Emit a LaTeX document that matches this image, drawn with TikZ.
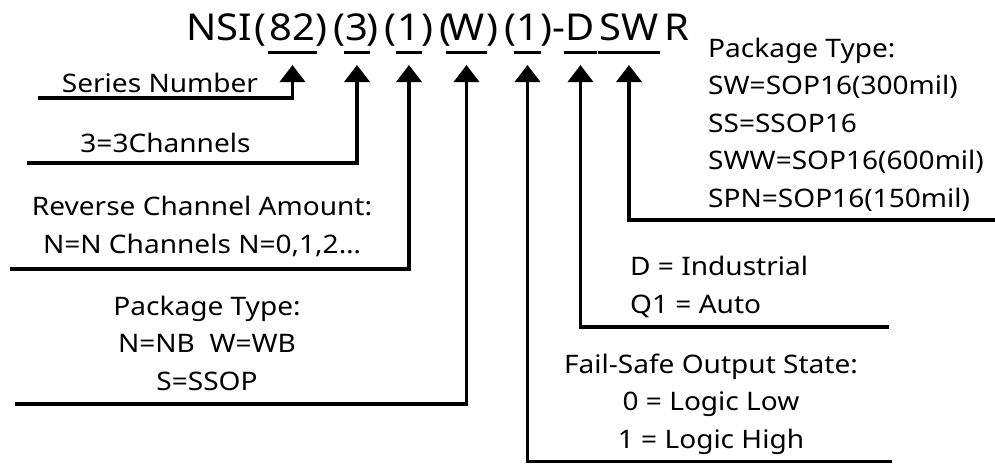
\documentclass[tikz,border=0pt]{standalone}
\usepackage{fontspec}
\setmainfont{Noto Sans}
\usetikzlibrary{arrows.meta}
\begin{document}
\begin{tikzpicture}[x=1pt,y=-1pt,
  lbl/.style={font=\fontsize{25.5}{37.5}\selectfont, inner sep=0pt, xscale=1.1},
  ttl/.style={font=\fontsize{37}{42}\selectfont, inner sep=0pt, anchor=base, xscale=1.08},
  lead/.style={line width=3.6pt, -{Triangle[width=25pt,length=17pt]}},
  uline/.style={line width=3pt}]
\useasboundingbox (0,0) rectangle (995,464);
% title
\node[ttl] (tN)  at (219.5,40) {NSI};
\node[ttl] (p1)  at (260,40) {(};
\node[ttl] (k82) at (292.5,40) {82};
\node[ttl] (p2)  at (321,40) {)};
\node[ttl] (p3)  at (339,40) {(};
\node[ttl] (k3)  at (357,40) {3};
\node[ttl] (p4)  at (372.5,40) {)};
\node[ttl] (p5)  at (390,40) {(};
\node[ttl] (k1)  at (409,40) {1};
\node[ttl] (p6)  at (427.5,40) {)};
\node[ttl] (p7)  at (445,40) {(};
\node[ttl] (kW)  at (466.5,40) {W};
\node[ttl] (p8)  at (492,40) {)};
\node[ttl] (p9)  at (510,40) {(};
\node[ttl] (k1b) at (527.5,40) {1};
\node[ttl] (p10) at (546,40) {)};
\node[ttl] (hy)  at (559,40) {-};
\node[ttl] (kD)  at (580.5,40) {D};
\node[ttl] (kSW) at (629,40) {SW};
\node[ttl] (tR)  at (677,40) {R};
% underlines
\coordinate (ul) at (0,52);
\coordinate (tip) at (0,65);
\foreach \k in {k82,k3,k1,kW,k1b,kD,kSW}
  \draw[uline] ([xshift=-1.5pt]\k.west |- ul) -- ([xshift=1.5pt]\k.east |- ul);
% labels (multi-line nodes: base = baseline of last line)
\node[lbl,anchor=base] (lSN) at (160,92) {Series Number};
\node[lbl,anchor=base] (lCh) at (165.5,152) {3=3Channels};
\node[lbl,anchor=base,align=center] (lRv) at (202,253) {Reverse Channel Amount:\\ N=N Channels N=0,1,2…};
\node[lbl,anchor=base,align=center] (lPk) at (207,390) {Package Type:\\N=NB\ \ W=WB\\S=SSOP};
\node[lbl,anchor=base west,align=left] (lPT) at (708,207) {Package Type:\\SW=SOP16(300mil)\\SS=SSOP16\\SWW=SOP16(600mil)\\SPN=SOP16(150mil)};
\node[lbl,anchor=base west,align=left] (lGr) at (630,313) {D = Industrial\\Q1 = Auto};
\node[lbl,anchor=base,align=center] (lFs) at (711,448) {Fail-Safe Output State:\\0 = Logic Low\\1 = Logic High};
% leader ends
\coordinate (e1) at (38,98);
\coordinate (e2) at (27,163);
\coordinate (e3) at (10,269);
\coordinate (e4) at (15,404);
\coordinate (e5) at (892,461.5);
\coordinate (e6) at (889,327);
\coordinate (e7) at (997,220);
% leaders
\draw[lead] (e1) -- (e1 -| k82) -- (k82 |- tip);
\draw[lead] (e2) -- (e2 -| k3) -- (k3 |- tip);
\draw[lead] (e3) -- (e3 -| k1) -- (k1 |- tip);
\draw[lead] (e4) -- (e4 -| kW) -- (kW |- tip);
\draw[lead] (e5) -- (e5 -| k1b) -- (k1b |- tip);
\draw[lead] (e6) -- (e6 -| kD) -- (kD |- tip);
\draw[lead] (e7) -- (e7 -| kSW) -- (kSW |- tip);
\end{tikzpicture}
\end{document}
